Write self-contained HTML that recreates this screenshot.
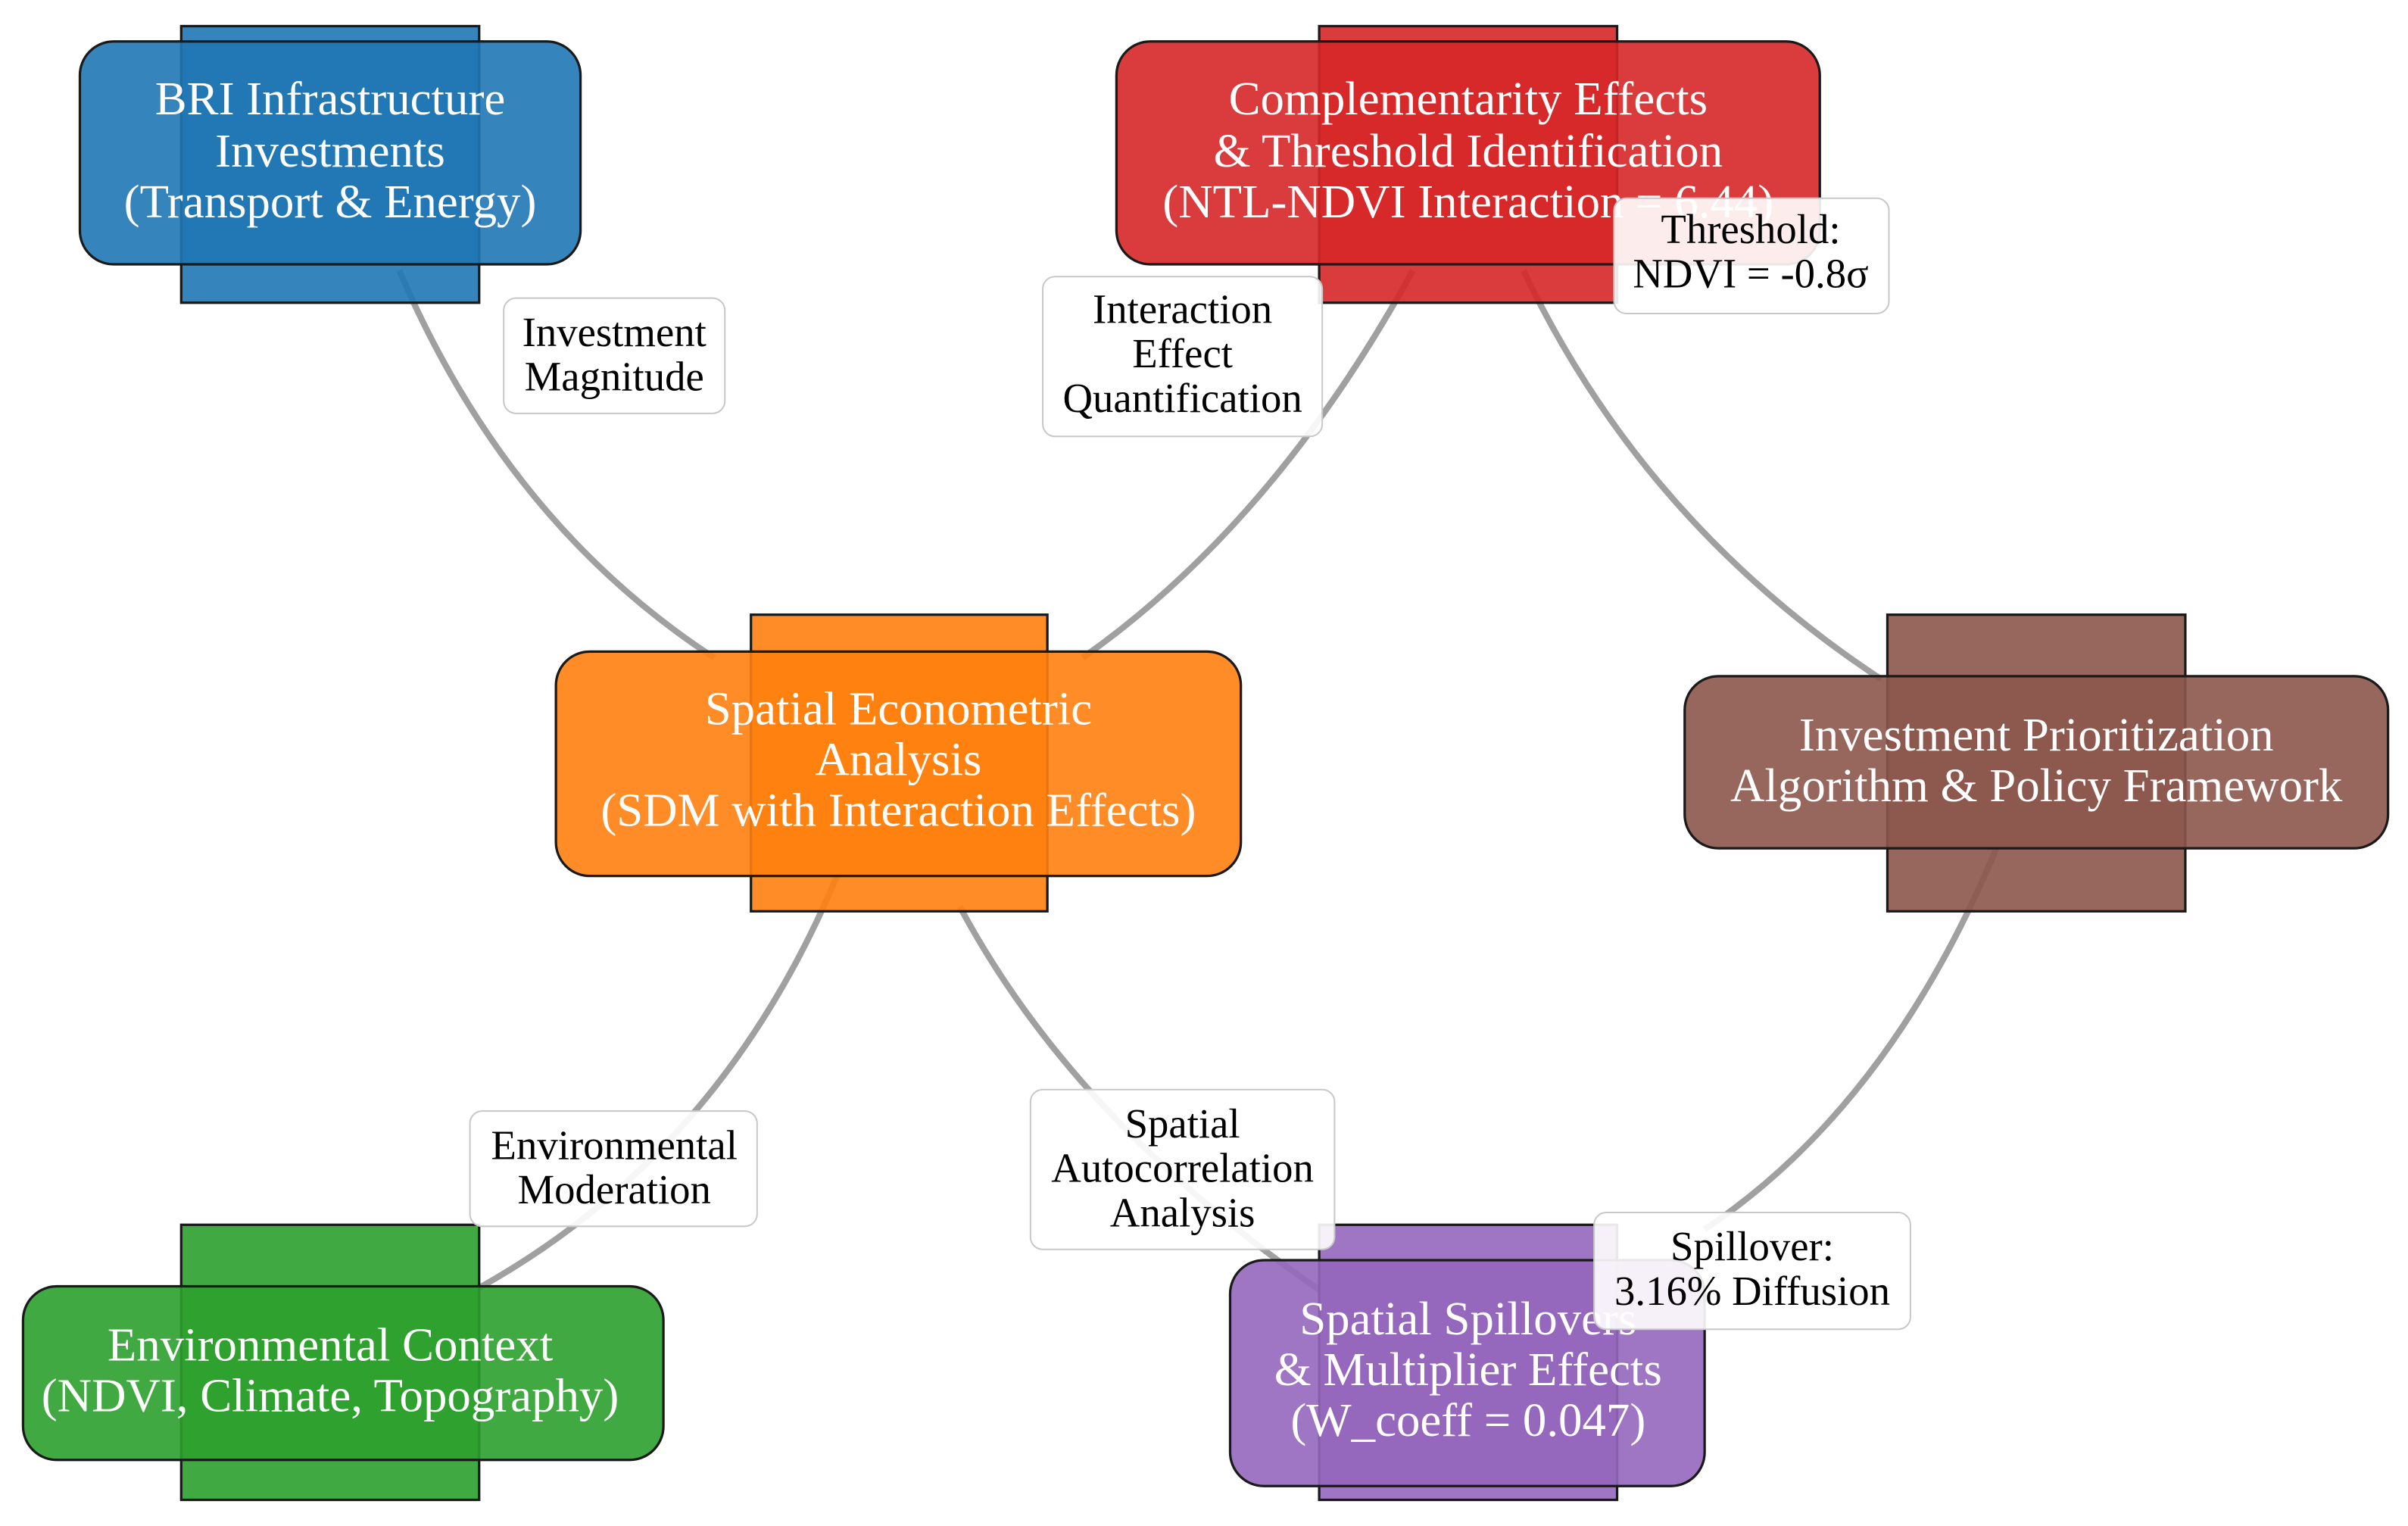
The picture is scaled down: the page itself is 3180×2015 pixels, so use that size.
<!DOCTYPE html>
<html><head><meta charset="utf-8"><style>
html,body{margin:0;padding:0;background:#fff;}
svg{display:block;}
text{font-family:"Liberation Serif",serif;text-anchor:middle;dominant-baseline:central;}
.n{fill:#fff;font-size:31px;}
.l{fill:#000;font-size:27px;}
.e{fill:none;stroke:#a0a0a0;stroke-width:4;}
.lb{fill:#fff;fill-opacity:0.9;stroke:#c8c8c8;stroke-width:1;}
</style></head><body>
<svg width="3180" height="2015" viewBox="0 0 1568 993" preserveAspectRatio="none" xmlns="http://www.w3.org/2000/svg">
<rect width="1568" height="993" fill="#fff"/>
<path class="e" d="M260,176 Q330,340 465,428"/>
<path class="e" d="M920,176 Q830,340 705,428"/>
<path class="e" d="M992,176 Q1070,340 1225,442"/>
<path class="e" d="M545,570 Q470,750 312,838"/>
<path class="e" d="M625,590 Q700,730 860,840"/>
<path class="e" d="M1300,552 Q1230,720 1110,800"/>
<g stroke="#1a1a1a" stroke-width="1.6">
<g fill="#1f77b4" fill-opacity="0.9">
<rect x="118" y="17" width="194" height="180"/>
<rect x="52" y="27" width="326" height="145" rx="22"/>
</g>
<g fill="#d62728" fill-opacity="0.9">
<rect x="859" y="17" width="194" height="180"/>
<rect x="727" y="27" width="458" height="145" rx="22"/>
</g>
<g fill="#ff7f0e" fill-opacity="0.9">
<rect x="489" y="400" width="193" height="193"/>
<rect x="362" y="424" width="446" height="146" rx="22"/>
</g>
<g fill="#8c564b" fill-opacity="0.9">
<rect x="1229" y="400" width="194" height="193"/>
<rect x="1097" y="440" width="458" height="112" rx="22"/>
</g>
<g fill="#2ca02c" fill-opacity="0.9">
<rect x="118" y="797" width="194" height="179"/>
<rect x="15" y="837" width="417" height="113" rx="22"/>
</g>
<g fill="#9467bd" fill-opacity="0.9">
<rect x="859" y="797" width="194" height="179"/>
<rect x="801" y="820" width="309" height="147" rx="22"/>
</g>
</g>
<text class="n" x="215" y="64">BRI Infrastructure</text>
<text class="n" x="215" y="98">Investments</text>
<text class="n" x="215" y="131">(Transport &amp; Energy)</text>
<text class="n" x="956" y="64">Complementarity Effects</text>
<text class="n" x="956" y="98">&amp; Threshold Identification</text>
<text class="n" x="956" y="131">(NTL-NDVI Interaction = 6.44)</text>
<text class="n" x="585" y="461">Spatial Econometric</text>
<text class="n" x="585" y="494">Analysis</text>
<text class="n" x="585" y="527">(SDM with Interaction Effects)</text>
<text class="n" x="1326" y="478">Investment Prioritization</text>
<text class="n" x="1326" y="511">Algorithm &amp; Policy Framework</text>
<text class="n" x="215" y="875">Environmental Context</text>
<text class="n" x="215" y="908">(NDVI, Climate, Topography)</text>
<text class="n" x="956" y="858">Spatial Spillovers</text>
<text class="n" x="956" y="891">&amp; Multiplier Effects</text>
<text class="n" x="956" y="924">(W_coeff = 0.047)</text>
<rect class="lb" x="328" y="194" width="144" height="75" rx="8"/>
<text class="l" x="400" y="216">Investment</text>
<text class="l" x="400" y="245">Magnitude</text>
<rect class="lb" x="679" y="180" width="182" height="104" rx="8"/>
<text class="l" x="770" y="201">Interaction</text>
<text class="l" x="770" y="230">Effect</text>
<text class="l" x="770" y="259">Quantification</text>
<rect class="lb" x="1051" y="129" width="179" height="75" rx="8"/>
<text class="l" x="1140" y="149">Threshold:</text>
<text class="l" x="1140" y="178">NDVI = -0.8σ</text>
<rect class="lb" x="306" y="723" width="187" height="75" rx="8"/>
<text class="l" x="400" y="745">Environmental</text>
<text class="l" x="400" y="774">Moderation</text>
<rect class="lb" x="671" y="709" width="198" height="104" rx="8"/>
<text class="l" x="770" y="731">Spatial</text>
<text class="l" x="770" y="760">Autocorrelation</text>
<text class="l" x="770" y="789">Analysis</text>
<rect class="lb" x="1038" y="789" width="206" height="76" rx="8"/>
<text class="l" x="1141" y="811">Spillover:</text>
<text class="l" x="1141" y="840">3.16% Diffusion</text>
</svg>
</body></html>
